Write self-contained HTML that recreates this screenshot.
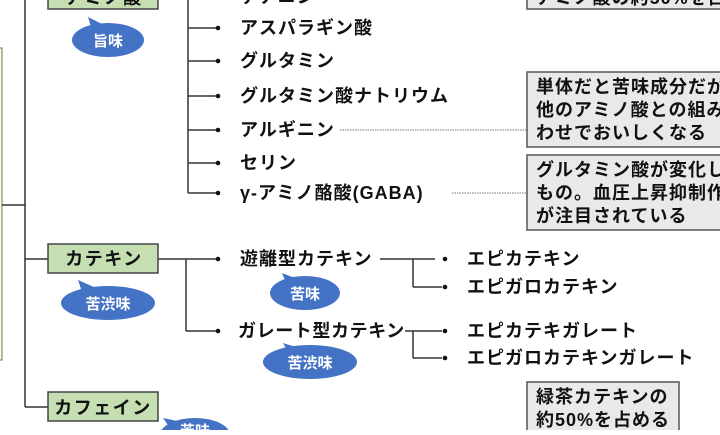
<!DOCTYPE html>
<html><head><meta charset="utf-8"><style>
body{margin:0;background:#fff;width:720px;height:430px;overflow:hidden}
svg text{font-family:"Liberation Sans","Noto Sans CJK JP",sans-serif;font-weight:bold}
</style></head><body>
<svg width="720" height="430" xmlns="http://www.w3.org/2000/svg">
<rect x="-10" y="48" width="12" height="312" fill="#fbfaf0" stroke="#8a8a60" stroke-width="1.2"/>
<g stroke="#333" stroke-width="1.5" fill="none">
<line x1="2" y1="205" x2="25" y2="205"/>
<line x1="25" y1="0" x2="25" y2="407"/>
<line x1="25" y1="259" x2="48" y2="259"/>
<line x1="25" y1="407" x2="48" y2="407"/>
<line x1="188" y1="0" x2="188" y2="193"/>
<line x1="188" y1="28" x2="218" y2="28"/>
<line x1="188" y1="61" x2="218" y2="61"/>
<line x1="188" y1="96" x2="218" y2="96"/>
<line x1="188" y1="130" x2="218" y2="130"/>
<line x1="188" y1="163" x2="218" y2="163"/>
<line x1="188" y1="193" x2="218" y2="193"/>
<line x1="158" y1="259" x2="218" y2="259"/>
<line x1="186" y1="259" x2="186" y2="331"/>
<line x1="186" y1="331" x2="218" y2="331"/>
<line x1="380" y1="259" x2="435" y2="259"/>
<line x1="413" y1="259" x2="413" y2="287"/>
<line x1="413" y1="287" x2="442" y2="287"/>
<line x1="405" y1="331" x2="442" y2="331"/>
<line x1="413" y1="331" x2="413" y2="358"/>
<line x1="413" y1="358" x2="442" y2="358"/>
</g>
<g stroke="#777" stroke-width="1" stroke-dasharray="1.5,1">
<line x1="340" y1="130" x2="527" y2="130"/>
<line x1="452" y1="193" x2="527" y2="193"/>
</g>
<g fill="#111">
<circle cx="218" cy="-3" r="2.3"/><circle cx="218" cy="28" r="2.3"/><circle cx="218" cy="61" r="2.3"/><circle cx="218" cy="96" r="2.3"/><circle cx="218" cy="130" r="2.3"/><circle cx="218" cy="163" r="2.3"/><circle cx="218" cy="193" r="2.3"/>
<circle cx="218" cy="259" r="2.3"/><circle cx="218" cy="331" r="2.3"/>
<circle cx="445" cy="259" r="2.3"/><circle cx="445" cy="287" r="2.3"/><circle cx="445" cy="331" r="2.3"/><circle cx="445" cy="358" r="2.3"/>
</g>
<g fill="#c6dfb2" stroke="#444" stroke-width="1.5">
<rect x="48" y="-20" width="110" height="29"/>
<rect x="48" y="244" width="110" height="29"/>
<rect x="48" y="392" width="110" height="29"/>
</g>
<g font-size="18" fill="#111" text-anchor="middle" letter-spacing="1.5">
<text x="104" y="4">アミノ酸</text>
<text x="104" y="265">カテキン</text>
<text x="103" y="414">カフェイン</text>
</g>
<g fill="#4472c4">
<ellipse cx="108" cy="40" rx="36" ry="17"/><path d="M88 17 L92 30 L104 25 Z"/>
<ellipse cx="108" cy="303" rx="47" ry="17"/><path d="M78 280 L82 292 L96 288 Z"/>
<ellipse cx="305" cy="293" rx="35" ry="17"/><path d="M282 273 L287 285 L300 280 Z"/>
<ellipse cx="310" cy="362" rx="47" ry="17"/><path d="M283 343 L289 354 L302 349 Z"/>
<ellipse cx="195" cy="435" rx="35" ry="17"/><path d="M163 418 L170 428 L182 422 Z"/>
</g>
<g font-size="15" fill="#fff" text-anchor="middle">
<text x="108" y="46">旨味</text>
<text x="108" y="309">苦渋味</text>
<text x="305" y="299">苦味</text>
<text x="310" y="368">苦渋味</text>
<text x="195" y="436">苦味</text>
</g>
<g font-size="18" fill="#111" letter-spacing="1">
<text x="240" y="3">テアニン</text>
<text x="240" y="34">アスパラギン酸</text>
<text x="240" y="67">グルタミン</text>
<text x="240" y="102">グルタミン酸ナトリウム</text>
<text x="240" y="136">アルギニン</text>
<text x="240" y="169">セリン</text>
<text x="240" y="199">γ-アミノ酪酸(GABA)</text>
<text x="240" y="265">遊離型カテキン</text>
<text x="238" y="337" letter-spacing="0.6">ガレート型カテキン</text>
<text x="467" y="265">エピカテキン</text>
<text x="467" y="293">エピガロカテキン</text>
<text x="467" y="337">エピカテキガレート</text>
<text x="467" y="364">エピガロカテキンガレート</text>
</g>
<g fill="#e9e9e9" stroke="#555" stroke-width="1.5">
<rect x="527" y="-20" width="200" height="29"/>
<rect x="527" y="72" width="200" height="75"/>
<rect x="527" y="155" width="200" height="75"/>
<rect x="527" y="382" width="152" height="60"/>
</g>
<g font-size="18" fill="#111" letter-spacing="1">
<text x="536" y="4">アミノ酸の約50%を占める</text>
<text x="536" y="93">単体だと苦味成分だが</text>
<text x="536" y="116">他のアミノ酸との組み合</text>
<text x="536" y="139">わせでおいしくなる</text>
<text x="536" y="176">グルタミン酸が変化した</text>
<text x="536" y="199">もの。血圧上昇抑制作用</text>
<text x="536" y="222">が注目されている</text>
<text x="536" y="403">緑茶カテキンの</text>
<text x="536" y="426">約50%を占める</text>
</g>
</svg>
</body></html>
